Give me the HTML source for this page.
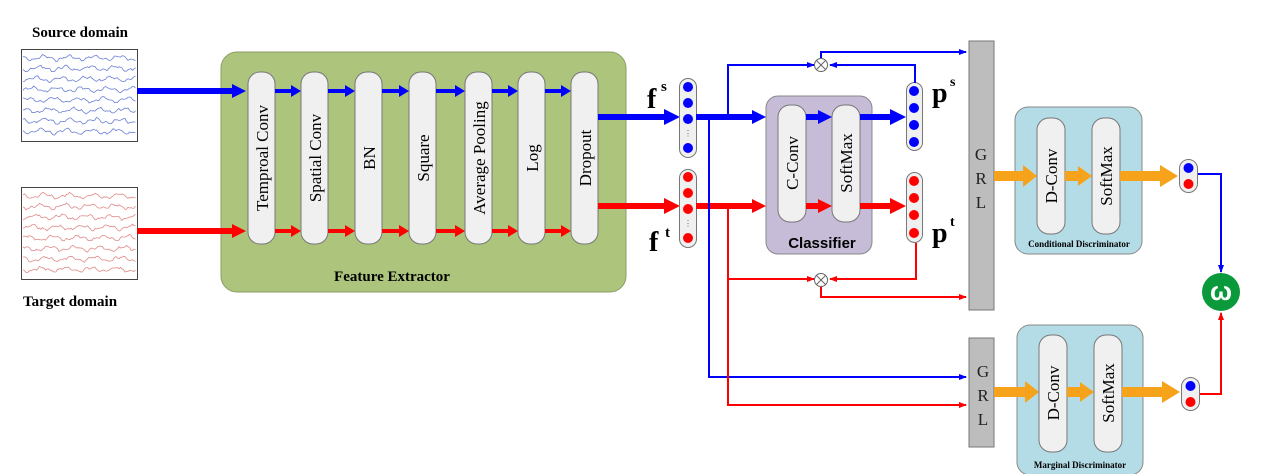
<!DOCTYPE html>
<html><head><meta charset="utf-8"><style>
html,body{margin:0;padding:0;background:#fff;}
svg{display:block;font-family:"Liberation Serif",serif;}
</style></head><body>
<svg id="s" width="1267" height="474" viewBox="0 0 1267 474" xmlns="http://www.w3.org/2000/svg">
<defs>
<marker id="ab" markerWidth="8" markerHeight="8" refX="7" refY="4" orient="auto" markerUnits="userSpaceOnUse"><path d="M0,1 L8,4 L0,7 Z" fill="#0000ff"/></marker>
<marker id="ar" markerWidth="8" markerHeight="8" refX="7" refY="4" orient="auto" markerUnits="userSpaceOnUse"><path d="M0,1 L8,4 L0,7 Z" fill="#ff0000"/></marker>
</defs>
<rect width="1267" height="474" fill="#fff"/>
<text x="32" y="37" font-size="15" font-weight="bold">Source domain</text>
<text x="23" y="306" font-size="15" font-weight="bold">Target domain</text>
<rect x="21.5" y="49.5" width="116" height="92" fill="#fff" stroke="#444" stroke-width="1"/>
<rect x="21.5" y="187.5" width="116" height="92" fill="#fff" stroke="#444" stroke-width="1"/>
<g id="eegS" fill="none" stroke="#6b7fd6" stroke-width="0.8"></g>
<g id="eegT" fill="none" stroke="#e08a8a" stroke-width="0.8"></g>
<rect x="221" y="52" width="405" height="240" rx="16" fill="#acc47c" stroke="#8a9e66" stroke-width="1"/>
<text x="392" y="281" font-size="15" font-weight="bold" text-anchor="middle">Feature Extractor</text>
<g id="pills"></g>
<polygon points="137,88 232,88 232,84 246,91 232,98 232,94 137,94" fill="#0000ff"/>
<polygon points="137,228 232,228 232,224 246,231 232,238 232,234 137,234" fill="#ff0000"/>
<polygon points="598,114 664,114 664,109 680,117 664,125 664,120 598,120" fill="#0000ff"/>
<polygon points="598,203 664,203 664,198 680,206 664,214 664,209 598,209" fill="#ff0000"/>
<rect x="679.5" y="78.5" width="17" height="79" rx="8.5" fill="#f0f0f0" stroke="#777"/>
<circle cx="688" cy="87" r="5" fill="#0000ff"/><circle cx="688" cy="103" r="5" fill="#0000ff"/><circle cx="688" cy="119" r="5" fill="#0000ff"/><circle cx="688" cy="148" r="5" fill="#0000ff"/>
<text x="688" y="136" font-size="8" text-anchor="middle" fill="#555">⋮</text>
<rect x="679.5" y="169.5" width="17" height="78" rx="8.5" fill="#f0f0f0" stroke="#777"/>
<circle cx="688" cy="177" r="5" fill="#ff0000"/><circle cx="688" cy="193" r="5" fill="#ff0000"/><circle cx="688" cy="209" r="5" fill="#ff0000"/><circle cx="688" cy="238" r="5" fill="#ff0000"/>
<text x="688" y="226" font-size="8" text-anchor="middle" fill="#555">⋮</text>
<text x="647" y="108" font-size="28" font-weight="bold">f</text><text x="661" y="91" font-size="15" font-weight="bold">s</text>
<text x="649" y="251" font-size="28" font-weight="bold">f</text><text x="665" y="237" font-size="15" font-weight="bold">t</text>
<rect x="766" y="96" width="106" height="158" rx="12" fill="#c6bcd8" stroke="#888"/>
<text x="822" y="248" font-size="15" font-weight="bold" font-family="Liberation Sans,sans-serif" text-anchor="middle">Classifier</text>
<rect x="778" y="105" width="28" height="117" rx="12" fill="#f0f0f0" stroke="#777"/>
<rect x="832" y="105" width="28" height="117" rx="12" fill="#f0f0f0" stroke="#777"/>
<text transform="translate(798,163) rotate(-90)" font-size="17" text-anchor="middle">C-Conv</text>
<text transform="translate(852,163) rotate(-90)" font-size="17" text-anchor="middle">SoftMax</text>
<polygon points="696,114 752,114 752,110 766,117 752,124 752,120 696,120" fill="#0000ff"/>
<polygon points="806,114 818,114 818,110 832,117 818,124 818,120 806,120" fill="#0000ff"/>
<polygon points="860,114 890,114 890,109 906,117 890,125 890,120 860,120" fill="#0000ff"/>
<polygon points="696,203 752,203 752,199 766,206 752,213 752,209 696,209" fill="#ff0000"/>
<polygon points="806,203 818,203 818,199 832,206 818,213 818,209 806,209" fill="#ff0000"/>
<polygon points="860,203 890,203 890,198 906,206 890,214 890,209 860,209" fill="#ff0000"/>
<rect x="906.5" y="82.5" width="16" height="68" rx="8" fill="#f0f0f0" stroke="#777"/>
<circle cx="914" cy="91" r="5" fill="#0000ff"/><circle cx="914" cy="108" r="5" fill="#0000ff"/><circle cx="914" cy="125" r="5" fill="#0000ff"/><circle cx="914" cy="142" r="5" fill="#0000ff"/>
<rect x="906.5" y="172.5" width="16" height="70" rx="8" fill="#f0f0f0" stroke="#777"/>
<circle cx="914" cy="181" r="5" fill="#ff0000"/><circle cx="914" cy="198" r="5" fill="#ff0000"/><circle cx="914" cy="215" r="5" fill="#ff0000"/><circle cx="914" cy="233" r="5" fill="#ff0000"/>
<text x="932" y="102" font-size="28" font-weight="bold">p</text><text x="950" y="86" font-size="14" font-weight="bold">s</text>
<text x="932" y="242" font-size="28" font-weight="bold">p</text><text x="950" y="226" font-size="14" font-weight="bold">t</text>
<g fill="none" stroke="#0000ff" stroke-width="2">
<polyline points="728,117 728,65 814,65" marker-end="url(#ab)"/>
<polyline points="915,83 915,65 830,65" marker-end="url(#ab)"/>
<polyline points="821,58 821,52 966,52" marker-end="url(#ab)"/>
<polyline points="709,117 709,377 966,377" marker-end="url(#ab)"/>
<polyline points="1197,174 1221,174 1221,272" marker-end="url(#ab)"/>
</g>
<g fill="none" stroke="#ff0000" stroke-width="2">
<polyline points="728,206 728,279 814,279" marker-end="url(#ar)"/>
<polyline points="916,243 916,279 830,279" marker-end="url(#ar)"/>
<polyline points="821,286 821,297 966,297" marker-end="url(#ar)"/>
<polyline points="728,279 728,405 966,405" marker-end="url(#ar)"/>
<polyline points="1198,394 1221,394 1221,313" marker-end="url(#ar)"/>
</g>
<g fill="#fff" stroke="#666">
<circle cx="821" cy="65" r="6.5"/><circle cx="821" cy="280" r="6.5"/>
</g>
<g stroke="#666" stroke-width="1">
<line x1="816.5" y1="60.5" x2="825.5" y2="69.5"/><line x1="825.5" y1="60.5" x2="816.5" y2="69.5"/>
<line x1="816.5" y1="275.5" x2="825.5" y2="284.5"/><line x1="825.5" y1="275.5" x2="816.5" y2="284.5"/>
</g>
<rect x="969" y="41" width="25" height="269" fill="#bdbdbd" stroke="#777"/>
<rect x="969" y="338" width="25" height="109" fill="#bdbdbd" stroke="#777"/>
<g font-size="17" text-anchor="middle" fill="#222">
<text x="981" y="160">G</text><text x="981" y="184">R</text><text x="981" y="208">L</text>
<text x="983" y="377">G</text><text x="983" y="401">R</text><text x="983" y="425">L</text>
</g>
<rect x="1015" y="107" width="127" height="147" rx="13" fill="#b4dce6" stroke="#888"/>
<rect x="1037" y="118" width="28" height="116" rx="12" fill="#f0f0f0" stroke="#777"/>
<rect x="1092" y="118" width="28" height="116" rx="12" fill="#f0f0f0" stroke="#777"/>
<text transform="translate(1057,176) rotate(-90)" font-size="17" text-anchor="middle">D-Conv</text>
<text transform="translate(1112,176) rotate(-90)" font-size="17" text-anchor="middle">SoftMax</text>
<text x="1079" y="247" font-size="9" font-weight="bold" text-anchor="middle">Conditional Discriminator</text>
<rect x="1017" y="325" width="126" height="150" rx="13" fill="#b4dce6" stroke="#888"/>
<rect x="1039" y="335" width="28" height="117" rx="12" fill="#f0f0f0" stroke="#777"/>
<rect x="1094" y="335" width="28" height="117" rx="12" fill="#f0f0f0" stroke="#777"/>
<text transform="translate(1059,393) rotate(-90)" font-size="17" text-anchor="middle">D-Conv</text>
<text transform="translate(1114,393) rotate(-90)" font-size="17" text-anchor="middle">SoftMax</text>
<text x="1080" y="468" font-size="9" font-weight="bold" text-anchor="middle">Marginal Discriminator</text>
<g fill="#f7a21b">
<polygon points="994,171 1023,171 1023,165 1037,176 1023,187 1023,181 994,181"/>
<polygon points="1065,171 1078,171 1078,166 1092,176 1078,186 1078,181 1065,181"/>
<polygon points="1120,171 1160,171 1160,165 1178,176 1160,187 1160,181 1120,181"/>
<polygon points="994,387 1025,387 1025,381 1039,392 1025,403 1025,397 994,397"/>
<polygon points="1067,387 1080,387 1080,382 1094,392 1080,402 1080,397 1067,397"/>
<polygon points="1122,387 1162,387 1162,381 1180,392 1162,403 1162,397 1122,397"/>
</g>
<rect x="1179.5" y="159.5" width="18" height="33" rx="9" fill="#f0f0f0" stroke="#777"/>
<circle cx="1188.5" cy="168" r="5" fill="#0000ff"/><circle cx="1188.5" cy="184" r="5" fill="#ff0000"/>
<rect x="1181.5" y="377.5" width="18" height="33" rx="9" fill="#f0f0f0" stroke="#777"/>
<circle cx="1190.5" cy="386" r="5" fill="#0000ff"/><circle cx="1190.5" cy="402" r="5" fill="#ff0000"/>
<circle cx="1221" cy="292" r="19" fill="#0a9a3c"/>
<text x="1221" y="300" font-size="26" font-weight="bold" fill="#fff" text-anchor="middle" font-family="Liberation Sans,sans-serif">ω</text>
</svg>
<script>
(function(){
var NS="http://www.w3.org/2000/svg";
var pills=document.getElementById("pills");
var xs=[248,301,355,409,465,518,571];
var names=["Temproal Conv","Spatial Conv","BN","Square","Average Pooling","Log","Dropout"];
for(var i=0;i<7;i++){
 var r=document.createElementNS(NS,"rect");
 r.setAttribute("x",xs[i]);r.setAttribute("y",72);r.setAttribute("width",27);r.setAttribute("height",172);
 r.setAttribute("rx",12);r.setAttribute("fill","#f0f0f0");r.setAttribute("stroke","#777");pills.appendChild(r);
 var t=document.createElementNS(NS,"text");
 t.setAttribute("transform","translate("+(xs[i]+20)+",158) rotate(-90)");
 t.setAttribute("font-size","17");t.setAttribute("text-anchor","middle");t.textContent=names[i];pills.appendChild(t);
 if(i<6){
  var a=xs[i]+27,b=xs[i+1];
  [[91,"#0000ff"],[231,"#ff0000"]].forEach(function(p){
   var g=document.createElementNS(NS,"polygon");var y=p[0];
   g.setAttribute("points",a+","+(y-2)+" "+(b-10)+","+(y-2)+" "+(b-10)+","+(y-6)+" "+b+","+y+" "+(b-10)+","+(y+6)+" "+(b-10)+","+(y+2)+" "+a+","+(y+2));
   g.setAttribute("fill",p[1]);pills.appendChild(g);
  });
 }
}
var seed=7;function rnd(){seed=(seed*9301+49297)%233280;return seed/233280;}
function eeg(id,y0){
 var g=document.getElementById(id);
 for(var k=0;k<8;k++){
  var y=y0+k*10.5,d="";
  for(var x=23;x<=136;x+=1.5){
   var v=y+Math.sin(x*0.25+k)*2+Math.sin(x*0.7+k*2)*1+(rnd()-0.5)*1.6;
   d+=(d?" L":"M")+x.toFixed(1)+","+v.toFixed(1);
  }
  var p=document.createElementNS(NS,"path");p.setAttribute("d",d);g.appendChild(p);
 }
}
eeg("eegS",58);eeg("eegT",196);
})();
</script>
</body></html>
